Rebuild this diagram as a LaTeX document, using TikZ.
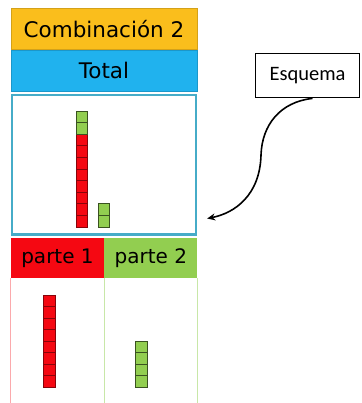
\documentclass[tikz,border=0pt]{standalone}
\usepackage{fontspec}
\setmainfont{DejaVu Sans}
\newfontfamily\calibri{Carlito}
\usetikzlibrary{positioning,arrows.meta}

\definecolor{naranja}{RGB}{250,190,28}
\definecolor{celeste}{RGB}{32,178,238}
\definecolor{rojo}{RGB}{245,8,18}
\definecolor{verde}{RGB}{146,206,80}
\definecolor{borde}{RGB}{70,172,200}

\tikzstyle{cabecera} = [rectangle, minimum width=186pt, minimum height=41pt, inner sep=0pt, text centered, font=\fontsize{21.5}{24}\selectfont]
\tikzstyle{parte} = [cabecera, minimum width=93pt, minimum height=40pt, font=\fontsize{20}{23}\selectfont]
\tikzstyle{marco} = [rectangle, minimum width=184pt, minimum height=139pt, draw=borde, line width=2.4pt]
\tikzstyle{etiqueta} = [rectangle, minimum width=104pt, minimum height=44pt, draw=black, line width=1.8pt, font=\calibri\fontsize{20.5}{23}\selectfont]
\tikzstyle{cuborojo} = [draw=rojo!55!black, fill=rojo, line width=0.8pt]
\tikzstyle{cuboverde} = [draw=verde!40!black, fill=verde, line width=0.8pt]

\begin{document}
\begin{tikzpicture}[x=1pt,y=-1pt]
	\useasboundingbox (0,0) rectangle (361,403);
	\node (titulo)  [cabecera, fill=naranja, draw=naranja!85!black] at (104,29) {Combinación 2};
	\node (total)   [cabecera, fill=celeste, draw=celeste!85!black, below=0pt of titulo] {Total};
	\node (esquema) [marco, below=3pt of total] {};
	\node (parte1)  [parte, fill=rojo, anchor=north west] at ([yshift=-2.5pt]esquema.south west) {parte 1};
	\node (parte2)  [parte, fill=verde, right=0pt of parte1] {parte 2};
	\node (caja)    [etiqueta] at (307.5,75.5) {Esquema};

	% celdas de abajo
	\draw[rojo!35, line width=1pt] (parte1.south west) -- ++(0,130);
	\draw[verde!50, line width=1pt] (parte1.south east) -- ++(0,130);
	\draw[verde!50, line width=1pt] (parte2.south east) -- ++(0,130);

	% barras del esquema
	\foreach \i in {0,...,7}
		\draw[cuborojo] (76,227-11.6*\i) rectangle ++(11.5,-11.6);
	\foreach \i in {8,9}
		\draw[cuboverde] (76,227-11.6*\i) rectangle ++(11.5,-11.6);
	\foreach \i in {0,1}
		\draw[cuboverde] (98,227-11.6*\i) rectangle ++(11.5,-11.6);

	% barras de las partes
	\foreach \i in {0,...,7}
		\draw[cuborojo] (43,387-11.5*\i) rectangle ++(12,-11.5);
	\foreach \i in {0,...,3}
		\draw[cuboverde] (135,387-11.5*\i) rectangle ++(12,-11.5);

	\coordinate (punta) at ([xshift=10pt,yshift=17pt]esquema.south east);
	\draw[-{Stealth[length=8pt,width=7pt]}, line width=1.6pt] ([xshift=5pt]caja.south) .. controls (280,102) and (262,125) .. (261,155) .. controls (260,195) and (235,213) .. (punta);
\end{tikzpicture}
\end{document}
